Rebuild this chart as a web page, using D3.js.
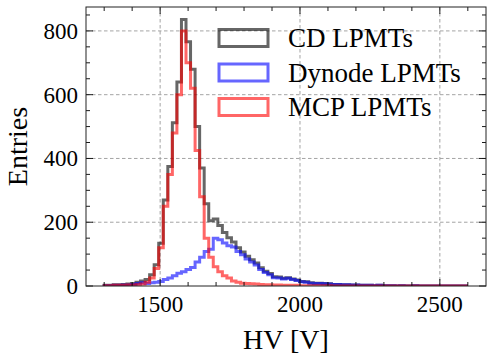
<!DOCTYPE html>
<html><head><meta charset="utf-8">
<script src="https://cdn.jsdelivr.net/npm/d3@7"></script>
<style>body{margin:0;background:#fff}svg{display:block}
text{font-family:"Liberation Serif","DejaVu Serif",serif}</style>
</head><body>
<svg id="chart" width="493" height="361"></svg>
<script>
// ---- data ----
const seriesNames = ["CD LPMTs", "Dynode LPMTs", "MCP LPMTs"];
const seriesColors = ["#000000", "#0000ff", "#ff0000"];
const binStart = 1300, binWidth = 16.25, binCount = 80;
const cdCounts = [2,2,4,4,5,6,8,12,16,20,35,67,134,270,375,512,640,836,766,680,
  500,370,258,205,210,190,168,151,138,120,107,93,82,72,57,46,39,29,28,24,
  26,22,19,14,13,10,9,9,8,7,5,5,4,4,3,3,2,2,2,1,
  2,1,1,1,0,1,0,0,1,0,0,0,0,0,0,0,0,0,0,0];
const dynodeCounts = [1,1,2,2,3,3,5,8,10,8,10,12,14,20,25,32,40,45,52,58,
  75,90,108,115,150,145,135,126,122,108,98,85,75,66,52,42,35,26,25,22,
  24,20,17,13,12,9,8,8,7,6,5,5,4,4,3,3,2,2,2,1,
  2,1,1,1,0,1,0,0,1,0,0,0,0,0,0,0,0,0,0,0];
const mcpCounts = [1,1,2,2,2,3,3,4,6,12,25,55,120,250,350,480,600,800,700,620,
  425,280,150,90,60,45,32,25,16,12,9,8,7,6,5,4,4,3,3,2,
  2,2,2,1,1,1,1,1,1,1,0,0,0,0,0,0,0,0,0,0,
  0,0,0,0,0,0,0,0,0,0,0,0,0,0,0,0,0,0,0,0];
const allCounts = [cdCounts, dynodeCounts, mcpCounts];
const xTicks = [1500, 2000, 2500];
const yTicks = [0, 200, 400, 600, 800];
const xLabel = "HV [V]", yLabel = "Entries";

// ---- layout ----
const m = {left: 86, right: 486, top: 7, bottom: 286};
const svg = d3.select("#chart");
const x = d3.scaleLinear().domain([1235, 2665]).range([m.left, m.right]);
const y = d3.scaleLinear().domain([0, 875]).range([m.bottom, m.top]);

svg.append("defs").append("clipPath").attr("id", "clip")
  .append("rect").attr("x", m.left).attr("y", m.top)
  .attr("width", m.right - m.left).attr("height", m.bottom - m.top);

// grid
const grid = svg.append("g").attr("stroke", "#9a9a9a").attr("stroke-width", 0.9)
  .attr("stroke-dasharray", "3.5,2.5");
xTicks.forEach(t => grid.append("line").attr("x1", x(t)).attr("x2", x(t))
  .attr("y1", m.top).attr("y2", m.bottom));
yTicks.filter(t => t > 0).forEach(t => grid.append("line").attr("y1", y(t)).attr("y2", y(t))
  .attr("x1", m.left).attr("x2", m.right));

// histograms
const edges = d3.range(binCount + 1).map(i => binStart + i * binWidth);
const plot = svg.append("g").attr("clip-path", "url(#clip)");
allCounts.forEach((counts, k) => {
  const pts = [[edges[0], 0]];
  counts.forEach((c, i) => { pts.push([edges[i], c]); pts.push([edges[i + 1], c]); });
  pts.push([edges[binCount], 0]);
  const line = d3.line().x(d => x(d[0])).y(d => y(d[1]));
  plot.append("path").attr("d", line(pts)).attr("fill", "none")
    .attr("stroke", seriesColors[k]).attr("stroke-opacity", 0.6)
    .attr("stroke-width", 3).attr("stroke-linejoin", "miter");
});

// axes (inward ticks on all sides)
const ax = svg.append("g").attr("stroke", "#000").attr("stroke-width", 0.9);
const xMinor = d3.range(1300, 2700, 100).filter(v => !xTicks.includes(v));
const yMinor = d3.range(50, 900, 50).filter(v => !yTicks.includes(v) && v < 875);
xTicks.forEach(t => {
  ax.append("line").attr("x1", x(t)).attr("x2", x(t)).attr("y1", m.bottom).attr("y2", m.bottom - 7);
  ax.append("line").attr("x1", x(t)).attr("x2", x(t)).attr("y1", m.top).attr("y2", m.top + 7);
});
xMinor.forEach(t => {
  ax.append("line").attr("x1", x(t)).attr("x2", x(t)).attr("y1", m.bottom).attr("y2", m.bottom - 4);
  ax.append("line").attr("x1", x(t)).attr("x2", x(t)).attr("y1", m.top).attr("y2", m.top + 4);
});
yTicks.forEach(t => {
  ax.append("line").attr("y1", y(t)).attr("y2", y(t)).attr("x1", m.left).attr("x2", m.left + 7);
  ax.append("line").attr("y1", y(t)).attr("y2", y(t)).attr("x1", m.right).attr("x2", m.right - 7);
});
yMinor.forEach(t => {
  ax.append("line").attr("y1", y(t)).attr("y2", y(t)).attr("x1", m.left).attr("x2", m.left + 4);
  ax.append("line").attr("y1", y(t)).attr("y2", y(t)).attr("x1", m.right).attr("x2", m.right - 4);
});
svg.append("rect").attr("x", m.left).attr("y", m.top)
  .attr("width", m.right - m.left).attr("height", m.bottom - m.top)
  .attr("fill", "none").attr("stroke", "#222").attr("stroke-width", 1);

// tick labels
svg.append("g").selectAll("text").data(xTicks).join("text")
  .attr("x", d => x(d)).attr("y", 312).attr("text-anchor", "middle")
  .attr("font-size", 23).attr("fill", "#000").text(d => d);
svg.append("g").selectAll("text").data(yTicks).join("text")
  .attr("x", 78).attr("y", d => y(d) + 8).attr("text-anchor", "end")
  .attr("font-size", 23).attr("fill", "#000").text(d => d);

// axis labels
svg.append("text").attr("x", (m.left + m.right) / 2).attr("y", 349)
  .attr("text-anchor", "middle").attr("font-size", 28).text(xLabel);
svg.append("text").attr("transform", `translate(27,${(m.top + m.bottom) / 2}) rotate(-90)`)
  .attr("text-anchor", "middle").attr("font-size", 28).text(yLabel);

// legend
const leg = svg.append("g");
seriesNames.forEach((name, k) => {
  const cy = 38 + k * 34.5;
  leg.append("rect").attr("x", 219).attr("y", cy - 8.5).attr("width", 49).attr("height", 17)
    .attr("fill", "none").attr("stroke", seriesColors[k]).attr("stroke-opacity", 0.6)
    .attr("stroke-width", 3);
  leg.append("text").attr("x", 288).attr("y", cy + 9)
    .attr("font-size", 27).attr("fill", "#000").text(name);
});
</script>
</body></html>
